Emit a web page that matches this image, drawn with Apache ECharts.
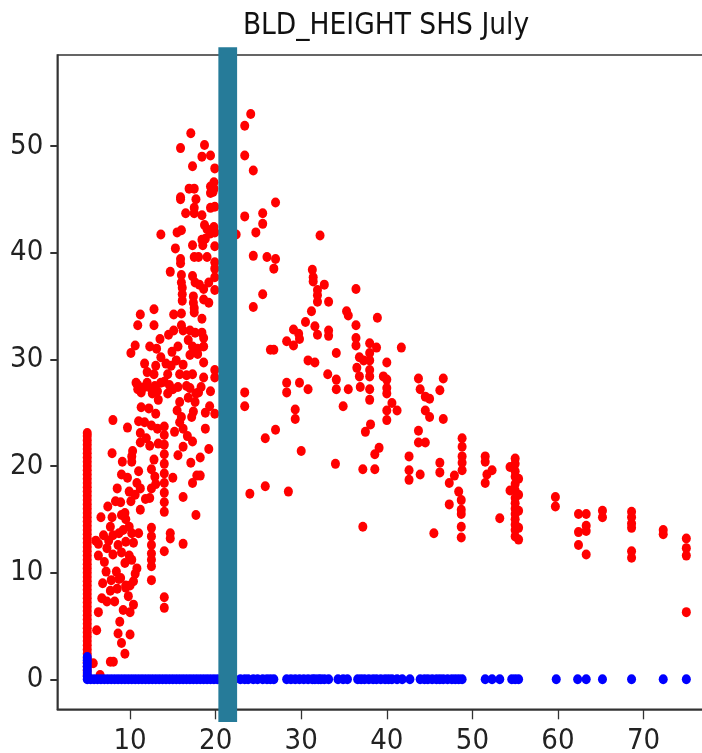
<!DOCTYPE html>
<html>
<head>
<meta charset="utf-8">
<script src="https://cdn.jsdelivr.net/npm/echarts@6/dist/echarts.min.js"></script>
<style>
html,body{margin:0;padding:0;background:#fff;}
#chart{width:702px;height:753px;}
</style>
</head>
<body>
<div id="chart"></div>
<script>
// ---- data ----
var titleText = 'BLD_HEIGHT SHS July';
var xTicks = [10, 20, 30, 40, 50, 60, 70];
var yTicks = [0, 10, 20, 30, 40, 50];

// red column of points at x = 5.0
var redColumnX = 5.0;
var redColumnY = [0.4,0.8,1.2,1.6,2.0,2.4,2.8,3.2,3.6,4.0,4.4,4.8,5.2,5.6,6.0,6.4,6.8,7.2,7.6,8.0,8.4,8.8,9.2,9.6,10.0,10.4,10.8,11.2,11.6,12.0,12.4,12.8,13.2,13.6,14.0,14.4,14.8,15.2,15.6,16.0,16.4,16.8,17.2,17.6,18.0,18.4,18.8,19.2,19.6,20.0,20.4,20.8,21.2,21.6,22.0,22.4,22.8,23.1];

// red scattered points [x, y]
var redLeft = [
[17.1,51.2],[18.7,50.1],[15.9,49.8],[18.4,49.0],[19.4,49.1],[17.3,48.1],[19.9,47.9],[19.8,46.6],[19.8,46.0],[19.7,45.7],
[16.9,46.0],[17.5,46.0],[15.9,45.2],[15.9,45.0],[17.7,45.0],[19.4,46.2],[19.4,45.6],[17.5,44.2],[17.5,43.7],[19.4,44.2],
[19.9,44.3],[16.5,43.7],[18.4,43.5],[18.7,42.6],[19.0,42.2],[19.8,42.4],[19.9,41.9],[19.4,41.8],[15.5,41.9],[16.0,42.1],
[13.6,41.7],[18.4,41.2],[18.8,41.3],[17.3,40.7],[18.5,40.7],[19.9,40.6],[15.3,40.4],[15.9,39.4],[15.9,39.0],[17.5,39.6],
[18.0,39.6],[19.0,39.6],[19.9,39.1],[19.9,38.5],[14.7,38.2],[17.3,37.8],[17.6,37.2],[18.1,37.0],[18.6,36.6],[19.2,37.2],
[19.9,37.7],[19.9,36.5],[16.0,37.9],[16.0,37.2],[16.1,36.7],[16.1,36.1],[16.1,35.5],[17.4,35.9],[17.4,35.3],[17.5,34.8],
[17.5,34.4],[18.6,35.6],[19.2,35.3],[11.2,34.2],[12.8,34.7],[10.9,33.2],[12.8,33.2],[15.1,34.2],[16.0,34.3],[18.4,33.8],
[16.0,33.2],[16.2,32.7],[17.0,32.7],[17.6,32.5],[18.4,32.5],[18.6,32.0],[15.1,32.7],[14.5,32.3],[13.5,31.9],[12.3,31.2],
[13.1,31.0],[10.1,30.6],[10.6,31.3],[15.6,31.2],[16.8,31.8],[17.3,31.2],[17.9,31.0],[18.6,31.2],[17.9,30.5],[17.0,30.4],
[17.5,30.7],[13.6,30.2],[14.2,29.6],[14.8,29.4],[13.0,29.4],[11.7,29.6],[18.6,29.7],[17.3,28.6],[18.6,28.3],[19.9,29.0],
[19.9,28.3],[10.7,27.8],[10.9,27.2],[11.7,27.4],[12.5,27.2],[12.9,27.5],[13.6,27.8],[14.6,27.6],[15.6,27.4],[17.0,27.3],
[19.4,27.0],[10.9,27.6],[11.3,26.9],[12.0,27.8],[12.6,26.8],[13.2,27.0],[14.0,27.9],[14.4,26.8],[15.0,27.2],[16.6,27.5],
[17.7,26.8],[18.3,27.4],[19.9,24.9],[8.0,24.3],[9.7,23.6],[7.9,21.2],[9.1,20.4],[9.0,19.2],[10.2,20.4],[6.6,15.2],
[7.9,15.2],[9.0,15.4],[7.7,14.3],[6.3,12.7],[7.3,12.3],[7.2,10.1],[8.4,10.1],[6.7,7.6],[7.3,7.3],[8.2,7.3],
[6.3,6.3],[6.1,4.6],[8.8,5.4],[8.6,4.3],[10.0,4.2],[9.0,3.4],[9.4,2.4],[7.7,1.65],[8.05,1.65],[5.7,1.5],
[6.5,0.4],[8.9,9.5],[9.5,8.8],[10.4,9.2],[9.8,7.8],[10.4,7.0],[9.2,6.5],[10.0,6.3],[14.0,7.7],[14.0,6.7],
[12.5,9.3],[12.5,10.6],[12.5,11.2],[12.5,11.8],[12.5,12.6],[12.5,13.4],[12.5,14.2],[14.0,12.0],[14.7,13.7],[14.7,13.2],
[16.2,12.7],[17.7,15.4],[16.2,17.1],[17.3,18.4],[17.8,19.1],[15.0,18.9],[14.0,15.7],[14.0,16.6],[14.0,17.5],[14.0,18.4],
[14.0,19.3],[14.0,20.2],[14.0,21.1],[14.0,22.0],[14.0,22.9],[14.0,23.7],[16.2,21.8],[16.2,23.5],[15.8,24.1],[15.5,25.2],
[16.0,24.6],[15.8,26.0],[17.6,26.0],[17.4,25.1],[17.2,24.6],[18.0,26.9],[12.3,21.9],[12.8,20.6],[12.5,19.7],[12.5,17.9],
[12.3,17.0],[11.3,25.5],[11.0,24.2],[11.2,23.1],[11.2,22.2],[10.3,21.4],[10.2,20.9],[11.0,19.5],[10.8,18.4],[11.2,17.9],
[10.6,17.3],[10.1,16.7],[11.2,15.9],[11.8,16.9],[8.3,16.7],[8.9,16.6],[9.4,15.6],[9.5,15.0],[9.9,14.3],[10.2,13.7],
[9.5,12.9],[10.4,12.8],[11.0,13.7],[9.9,11.6],[9.4,10.9],[10.2,11.2],[10.8,10.4],[10.6,9.9],[10.0,8.8],[9.5,8.6],
[6.0,13.0],[6.3,11.6],[6.9,13.5],[7.5,13.0],[7.0,11.0],[8.0,11.7],[7.8,9.3],[6.8,9.0],[8.6,12.6],[8.0,13.5],
[7.4,16.2],[8.5,17.9],[9.7,18.9],[9.9,17.6],[9.2,14.0],[8.7,13.7],[9.0,11.9],[7.7,8.3],[8.5,8.5],[8.7,9.4],
[11.7,24.1],[12.2,25.4],[12.5,23.8],[13.0,24.9],[13.3,26.2],[12.0,28.8],[12.8,28.6],[13.2,23.5],[11.9,22.6],[13.3,22.1],
[12.9,19.0],[13.0,18.3],[14.9,30.7],[15.4,29.9],[16.2,29.5],[16.6,28.5],[15.8,28.6],[14.4,28.6],[15.2,23.2],[16.7,22.8],
[17.3,22.3],[18.8,23.5],[19.3,25.6],[18.8,25.0],[16.8,26.4],[15.6,21.0],[18.2,20.8],[19.2,21.6],[18.2,19.1],[17.1,20.3]
];
var redRight = [
[24.1,53.0],[23.4,51.9],[23.4,49.1],[24.4,47.7],[27.0,44.7],[25.5,43.7],[23.4,43.4],[25.5,42.7],[24.7,41.9],[22.4,41.7],
[24.4,39.7],[26.0,39.6],[27.0,39.4],[26.8,38.5],[25.5,36.1],[24.4,34.9],[26.4,30.9],[26.8,30.9],[23.4,26.9],[23.4,25.6],
[27.0,23.4],[25.8,22.6],[24.0,17.4],[25.8,18.1],[28.5,17.6],[32.2,41.6],[31.3,38.4],[31.4,37.7],[31.4,37.3],[32.7,37.0],
[31.9,36.5],[31.9,36.0],[31.9,35.4],[33.2,35.4],[36.4,36.6],[31.2,34.5],[30.5,33.5],[35.3,34.5],[35.5,34.1],[36.4,33.2],
[36.4,32.0],[36.4,31.3],[38.9,33.9],[29.1,32.8],[29.7,32.4],[29.8,31.9],[29.1,31.3],[28.3,31.7],[31.6,33.1],[31.9,32.3],
[33.2,32.7],[33.2,32.2],[38.0,31.5],[38.8,31.1],[41.7,31.1],[34.1,30.6],[30.8,29.9],[31.6,29.7],[36.8,30.2],[37.3,29.9],
[38.0,30.6],[38.0,29.9],[36.5,29.2],[36.8,28.4],[38.0,29.0],[38.0,28.4],[40.0,29.7],[33.1,28.6],[34.1,28.1],[34.1,27.2],
[28.3,27.8],[28.3,26.9],[29.8,27.8],[30.8,27.2],[35.5,27.2],[36.9,27.4],[38.0,27.2],[38.0,26.2],[39.6,28.4],[40.0,28.1],
[40.0,27.3],[40.0,26.8],[40.6,25.9],[41.2,25.2],[40.0,25.2],[40.0,24.3],[34.9,25.6],[29.3,25.3],[29.3,24.4],[43.7,28.2],
[43.9,27.2],[44.5,26.5],[45.0,26.3],[44.5,25.2],[45.0,24.6],[46.6,28.2],[46.2,27.1],[46.6,24.4],[38.1,23.9],[37.5,23.2],
[39.1,21.7],[38.6,21.1],[38.6,19.7],[37.2,19.7],[34.0,20.2],[30.0,21.4],[37.2,14.3],[45.5,13.7],[43.7,23.3],[43.7,22.2],
[44.5,22.2],[42.6,20.9],[42.6,19.6],[42.6,18.7],[43.9,19.2],[46.2,20.3],[46.2,19.4],[47.9,19.1],[47.3,18.4],[47.3,16.4],
[48.4,17.6],[48.7,16.8],[48.7,15.9],[48.7,15.5],[48.8,22.6],[48.8,21.8],[48.8,20.9],[48.8,20.3],[48.8,19.6],[48.7,14.3],
[48.7,13.3],[51.5,20.9],[51.5,20.4],[52.3,19.6],[51.7,19.2],[51.5,18.4],[53.2,15.1],[54.4,19.9],[54.4,17.7],[55.0,20.7],
[55.0,20.2],[55.0,19.5],[55.0,19.0],[55.0,18.3],[55.0,17.7],[55.0,17.0],[55.0,16.5],[55.0,16.0],[55.0,15.5],[55.0,15.0],
[55.0,14.5],[55.0,14.0],[55.0,13.4],[55.4,18.8],[55.4,17.3],[55.4,15.8],[55.4,14.2],[55.4,13.1],[59.7,17.1],[59.7,16.2],
[62.4,15.5],[62.4,13.8],[62.4,12.6],[63.3,15.5],[63.3,14.4],[63.3,13.9],[63.3,11.7],[65.2,15.8],[65.2,15.2],[68.6,15.7],
[68.6,15.2],[68.6,14.6],[68.6,14.2],[68.6,12.0],[68.6,11.4],[72.3,14.0],[72.3,13.6],[75.0,13.2],[75.0,12.3],[75.0,11.6],
[75.0,6.3]
];

// blue points: short column at x = 5.0 and a row at y = 0
var blueColumnX = 5.0;
var blueColumnY = [0.3,0.6,0.9,1.2,1.5,1.8,2.1];
var blueRowY = 0;
var blueRowX = [5.0,5.4,5.8,6.2,6.6,7.0,7.4,7.8,8.2,8.6,9.0,9.4,9.8,10.2,10.6,11.0,11.4,11.8,12.2,12.6,13.0,13.4,13.8,14.2,14.6,15.0,15.4,15.8,16.2,16.6,17.0,17.4,17.8,18.2,18.6,19.0,19.4,19.8,20.2,20.6,21.0,21.4,21.8,22.2,22.9,23.4,23.8,24.4,24.9,25.5,26.0,26.4,26.8,28.3,28.8,29.3,29.8,30.3,30.8,31.3,31.6,32.0,32.3,32.7,33.2,34.3,34.9,35.4,36.6,37.0,37.4,37.9,38.4,38.8,39.3,39.8,40.2,40.6,41.2,41.8,42.7,43.9,44.4,44.8,45.3,45.8,46.2,46.6,47.1,47.6,48.0,48.4,48.8,51.5,52.3,53.2,54.6,55.0,55.4,59.8,62.3,63.3,65.2,68.6,72.3,75.0];

// teal vertical band (x range and y range, in data units)
var bandX = [20.32, 22.51];
var bandY = [-4.0, 59.25];

// axis ranges
var xRange = [1.5, 78.7];
var yRange = [-2.81, 58.53];

// ---- build ----
var redData = redColumnY.map(function (y) { return [redColumnX, y]; }).concat(redLeft, redRight);
var blueData = blueRowX.map(function (x) { return [x, blueRowY]; })
  .concat(blueColumnY.map(function (y) { return [blueColumnX, y]; }));

var FONT = '"Liberation Sans Narrow", "DejaVu Sans Condensed", "Liberation Sans", sans-serif';

var chart = echarts.init(document.getElementById('chart'), null, { renderer: 'canvas' });
chart.setOption({
  animation: false,
  backgroundColor: '#ffffff',
  title: {
    text: titleText,
    left: 386,
    top: 11,
    padding: 0,
    textAlign: 'center',
    textStyle: { fontFamily: FONT, fontSize: 29.5, fontWeight: 'normal', color: '#111' }
  },
  grid: {
    left: 57.3, top: 55, right: -16, bottom: 43.7,
    containLabel: false,
    outerBoundsMode: 'none',
    show: true, borderColor: '#333', borderWidth: 1.5, backgroundColor: 'transparent'
  },
  xAxis: {
    type: 'value', min: xRange[0], max: xRange[1],
    splitLine: { show: false },
    axisLine: { show: true, onZero: false, lineStyle: { color: '#333', width: 1.5 } },
    axisTick: { show: true, customValues: xTicks, length: 10, lineStyle: { color: '#333', width: 1.3 } },
    axisLabel: { customValues: xTicks, fontFamily: FONT, fontSize: 29, color: '#222', margin: 18 }
  },
  yAxis: {
    type: 'value', min: yRange[0], max: yRange[1],
    splitLine: { show: false },
    axisLine: { show: true, onZero: false, lineStyle: { color: '#333', width: 1.5 } },
    axisTick: { show: true, customValues: yTicks, length: 7, lineStyle: { color: '#333', width: 2 } },
    axisLabel: { customValues: yTicks, fontFamily: FONT, fontSize: 29, color: '#222', margin: 14 }
  },
  series: [
    {
      type: 'scatter', name: 'red', data: redData,
      symbol: 'circle', symbolSize: [9, 10],
      itemStyle: { color: '#ff0000', opacity: 1 }, z: 2
    },
    {
      type: 'scatter', name: 'blue', data: blueData,
      symbol: 'circle', symbolSize: [9, 10],
      itemStyle: { color: '#0000ff', opacity: 1 }, z: 3
    },
    {
      type: 'custom', name: 'band', clip: false, z: 10,
      data: [[bandX[0], bandY[0], bandX[1], bandY[1]]],
      renderItem: function (params, api) {
        var p0 = api.coord([api.value(0), api.value(3)]);
        var p1 = api.coord([api.value(2), api.value(1)]);
        return {
          type: 'rect',
          shape: { x: p0[0], y: p0[1], width: p1[0] - p0[0], height: p1[1] - p0[1] },
          style: { fill: '#267b99' }
        };
      }
    }
  ]
});
</script>
</body>
</html>
